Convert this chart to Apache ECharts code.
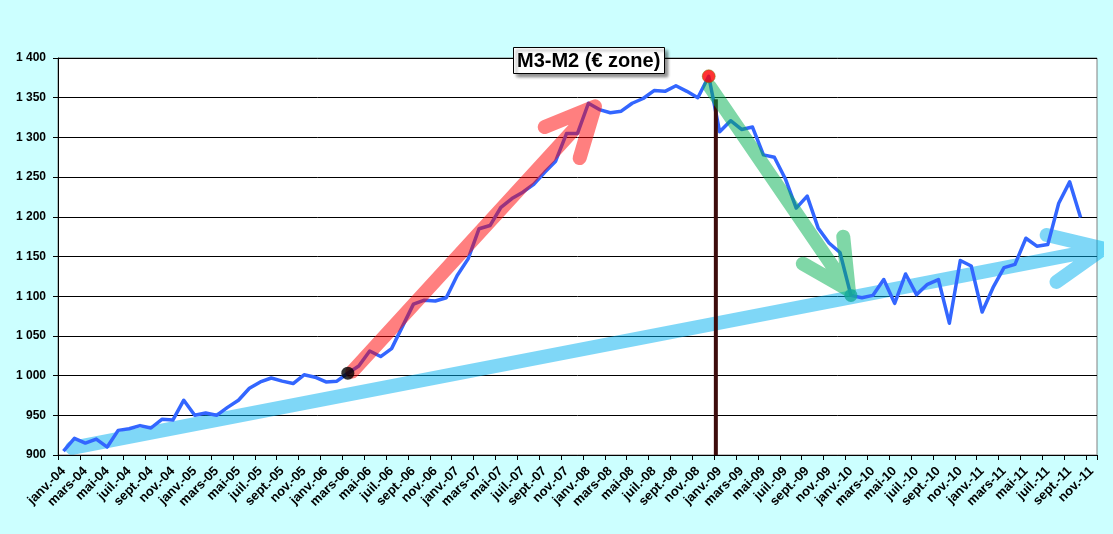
<!DOCTYPE html>
<html>
<head>
<meta charset="utf-8">
<title>M3-M2 (€ zone)</title>
<script src="https://cdn.jsdelivr.net/npm/echarts@6/dist/echarts.min.js"></script>
<style>
  html, body { margin: 0; padding: 0; background: #ccffff; }
  #chart { width: 1113px; height: 534px; }
</style>
</head>
<body>
<div id="chart"></div>
<script>
// mois / années pour l'axe des catégories (janv.-04 .. nov.-11)
var monthNames = ['janv.', 'févr.', 'mars', 'avr.', 'mai', 'juin', 'juil.', 'août', 'sept.', 'oct.', 'nov.', 'déc.'];
var years = ['04', '05', '06', '07', '08', '09', '10', '11'];
var categories = [];
years.forEach(function (y) {
  monthNames.forEach(function (m) {
    if (categories.length < 95) categories.push(m + '-' + y);
  });
});

// M3-M2, milliards d'euros, janv.-04 .. oct.-11
var m3m2 = [
  905, 921, 915, 920, 910, 931, 933, 937, 934, 945, 944, 969,
  950, 953, 950, 960, 969, 984, 992, 997, 993, 990, 1001, 998,
  992, 993, 1003, 1012, 1031, 1024, 1034, 1062, 1090, 1095, 1094, 1098,
  1126, 1147, 1185, 1189, 1212, 1223, 1231, 1241, 1256, 1270, 1305, 1305,
  1343, 1335, 1331, 1333, 1343, 1349, 1359, 1358, 1365, 1358, 1350, 1377,
  1307, 1321, 1310, 1313, 1278, 1275, 1248, 1211, 1226, 1186, 1167, 1155,
  1101, 1098, 1101, 1121, 1091, 1128, 1102, 1115, 1121, 1066, 1145, 1138,
  1080, 1111, 1136, 1140, 1173, 1163, 1165, 1217, 1244, 1199
];

var yTicks = [900, 1400, 50];

// points marqués (indices dans m3m2)
var dotIdx = [26, 59, 72];
var dotColors = ['#000000', '#ff0000', '#17a99b'];

// flèches dessinées : [position en mois depuis janv.-04, valeur]
// tracé : départ -> pointe -> aile -> pointe -> aile
var blueArrow = [[1.3, 909], [95.6, 1160], [90.4, 1177], [95.6, 1160], [91.3, 1118]];
var redArrow = [[26.9, 1005], [49.1, 1339], [44.5, 1313], [49.1, 1339], [47.7, 1274]];
var greenArrow = [[59.6, 1364], [72.3, 1108], [68.1, 1141], [72.3, 1108], [71.8, 1175]];
var crisisLine = [[60.15, 1348], [60.15, 900]];

var chart = echarts.init(document.getElementById('chart'));
var font = 'Arial, "Liberation Sans", sans-serif';

function arrowSeries(data, color, z) {
  return {
    type: 'line',
    xAxisIndex: 1,
    data: data,
    showSymbol: false,
    symbol: 'none',
    clip: false,
    silent: true,
    z: z,
    lineStyle: { width: 14, color: color, cap: 'round', join: 'round' },
    emphasis: { disabled: true }
  };
}

var option = {
  backgroundColor: '#ccffff',
  animation: false,
  title: {
    text: 'M3-M2 (€ zone)',
    left: 513,
    top: 47,
    padding: [3, 4, 2, 4],
    backgroundColor: '#ffffff',
    borderColor: '#000000',
    borderWidth: 1,
    shadowColor: 'rgba(0,0,0,0.45)',
    shadowBlur: 3,
    shadowOffsetX: 3,
    shadowOffsetY: 3,
    textStyle: { fontFamily: font, fontSize: 20, fontWeight: 'bold', color: '#000', lineHeight: 22 }
  },
  grid: {
    left: 58, right: 16, top: 58, bottom: 79,
    show: true,
    backgroundColor: '#ffffff',
    borderColor: '#808080',
    borderWidth: 1
  },
  xAxis: [{
    type: 'category',
    data: categories,
    boundaryGap: true,
    axisLine: { lineStyle: { color: '#000', width: 1 } },
    axisTick: { show: true, interval: 1, length: 5, lineStyle: { color: '#000' } },
    axisLabel: {
      interval: 1, rotate: 45, margin: 14,
      fontFamily: font, fontSize: 13, fontWeight: 'bold', color: '#000'
    },
    splitLine: { show: false }
  }, {
    type: 'value',
    min: 0,
    max: categories.length,
    show: false
  }],
  yAxis: {
    type: 'value',
    min: yTicks[0],
    max: yTicks[1],
    interval: yTicks[2],
    axisLine: { show: true, lineStyle: { color: '#000', width: 1 } },
    axisTick: { show: true, length: 5, lineStyle: { color: '#000' } },
    axisLabel: {
      margin: 12,
      fontFamily: font, fontSize: 12, fontWeight: 'bold', color: '#000',
      formatter: function (v) {
        if (v < 1000) return String(v);
        var r = String(v % 1000);
        while (r.length < 3) r = '0' + r;
        return Math.floor(v / 1000) + ' ' + r;
      }
    },
    splitLine: { show: true, lineStyle: { color: '#000', width: 1 } }
  },
  series: [
    arrowSeries(blueArrow, 'rgba(0,176,240,0.5)', 1),
    {
      name: 'M3-M2',
      type: 'line',
      data: m3m2,
      showSymbol: false,
      symbol: 'none',
      z: 2,
      lineStyle: { width: 3.5, color: '#3366ff', join: 'round' },
      emphasis: { disabled: true }
    },
    {
      type: 'line',
      xAxisIndex: 1,
      data: crisisLine,
      showSymbol: false,
      symbol: 'none',
      z: 3,
      lineStyle: { width: 4, color: '#3d0c0c' },
      emphasis: { disabled: true }
    },
    arrowSeries(redArrow, 'rgba(255,0,0,0.5)', 4),
    arrowSeries(greenArrow, 'rgba(0,176,80,0.5)', 4),
    {
      type: 'scatter',
      z: 5,
      symbolSize: 13,
      silent: true,
      data: dotIdx.map(function (i, k) {
        return {
          value: [categories[i], m3m2[i]],
          itemStyle: { color: dotColors[k], borderColor: 'rgba(120,120,0,0.6)', borderWidth: k === 1 ? 1 : 0 }
        };
      })
    }
  ]
};

chart.setOption(option);
</script>
</body>
</html>
